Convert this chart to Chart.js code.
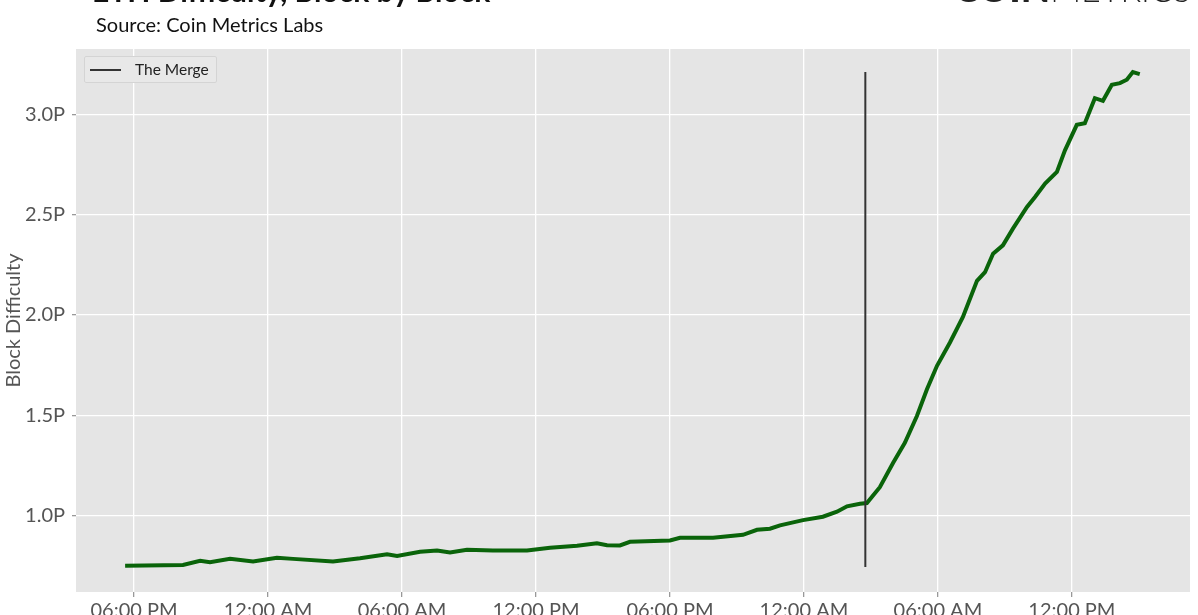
<!DOCTYPE html>
<html>
<head>
<meta charset="utf-8">
<script src="https://cdn.jsdelivr.net/npm/chart.js"></script>
<style>
  html, body { margin: 0; padding: 0; background: #fff; overflow: hidden; width: 1198px; height: 615px; }
  #wrap { position: relative; width: 1198px; height: 615px; overflow: hidden; font-family: Lato, sans-serif; }
  #chart { position: absolute; left: 0; top: 0; }
  .title { position: absolute; left: 92px; top: -28px; font-size: 30px; font-weight: bold; color: #111; white-space: nowrap; }
  .logo { position: absolute; left: 954px; top: -36px; font-size: 38px; color: #222; white-space: nowrap; }
  .logo b { font-weight: 900; }
  .logo span { font-weight: 300; font-size: 34px; }
  .source { position: absolute; left: 96px; top: 12px; font-size: 20px; color: #111; white-space: nowrap; }
  .legend { position: absolute; left: 84px; top: 56px; width: 131px; height: 25px; background: #e8e8e8;
            border: 1px solid #d4d4d4; border-radius: 2px; }
  .legend i { position: absolute; left: 5px; top: 12px; width: 31px; height: 2px; background: #333; }
  .legend span { position: absolute; left: 50px; top: 3px; font-size: 15.5px; color: #222; }
</style>
</head>
<body>
<div id="wrap">
  <canvas id="chart" width="1198" height="632"></canvas>
  <div class="title">ETH Difficulty, Block by Block</div>
  <div class="logo"><b>COIN</b><span>METRICS</span></div>
  <div class="source">Source: Coin Metrics Labs</div>
  <div class="legend"><i></i><span>The Merge</span></div>
</div>
<script>
// 区块难度 - 合并前后（小时，相对于首日 06:00 PM）
const hours = [
  -0.40, 2.19, 2.96, 3.40, 4.30, 5.33, 6.40, 7.12, 8.91, 10.12,
  11.33, 11.78, 12.81, 13.57, 14.15, 14.91, 16.07, 17.60, 18.63, 19.84,
  20.73, 21.18, 21.76, 22.21, 24.00, 24.45, 25.93, 27.27, 27.90, 28.48,
  28.93, 29.96, 30.85, 31.48, 31.93, 32.51, 32.82, 33.40, 33.99, 34.52,
  35.06, 35.51, 35.96, 36.54, 37.12, 37.75, 38.11, 38.47, 38.91, 39.36,
  39.99, 40.35, 40.80, 41.33, 41.69, 42.22, 42.58, 43.03, 43.39, 43.79,
  44.15, 44.46, 44.73, 45.04
];
const difficulty = [
  0.751, 0.755, 0.775, 0.768, 0.785, 0.772, 0.790, 0.785, 0.772, 0.788,
  0.808, 0.800, 0.820, 0.827, 0.817, 0.830, 0.827, 0.827, 0.840, 0.850,
  0.863, 0.853, 0.852, 0.870, 0.877, 0.890, 0.890, 0.905, 0.930, 0.935,
  0.952, 0.978, 0.995, 1.020, 1.047, 1.060, 1.063, 1.142, 1.263, 1.363,
  1.497, 1.630, 1.747, 1.863, 1.990, 2.170, 2.213, 2.305, 2.347, 2.430,
  2.538, 2.588, 2.655, 2.713, 2.820, 2.947, 2.955, 3.080, 3.067, 3.147,
  3.155, 3.172, 3.210, 3.200
];

// The Merge 竖线
const mergeHour = 32.75;
const mergeRange = [0.745, 3.21];

// 坐标轴刻度
const xTickHours = [0, 6, 12, 18, 24, 30, 36, 42];
const xTickLabels = ['06:00 PM', '12:00 AM', '06:00 AM', '12:00 PM', '06:00 PM', '12:00 AM', '06:00 AM', '12:00 PM'];
const yTickValues = [1.0, 1.5, 2.0, 2.5, 3.0];
const yTickLabels = ['1.0P', '1.5P', '2.0P', '2.5P', '3.0P'];

// 绘图区灰色背景
const plotBackground = {
    id: 'plotBackground',
    beforeDraw(chart) {
        const a = chart.chartArea;
        const ctx = chart.ctx;
        ctx.save();
        ctx.fillStyle = '#e5e5e5';
        ctx.fillRect(a.left, a.top, a.right - a.left, a.bottom - a.top);
        ctx.restore();
    }
};

const ctx = document.getElementById('chart').getContext('2d');
new Chart(ctx, {
    type: 'line',
    data: {
        datasets: [{
            label: 'Block Difficulty',
            data: hours.map((h, i) => ({ x: h, y: difficulty[i] })),
            borderColor: '#0a640a',
            borderWidth: 4,
            pointRadius: 0,
            tension: 0,
            order: 2
        }, {
            label: 'The Merge',
            data: mergeRange.map(v => ({ x: mergeHour, y: v })),
            borderColor: '#333333',
            borderWidth: 2,
            pointRadius: 0,
            order: 1
        }]
    },
    options: {
        responsive: false,
        animation: false,
        layout: { padding: { top: 49, right: 8, left: 0, bottom: 0 } },
        plugins: {
            legend: { display: false },
            tooltip: { enabled: false }
        },
        scales: {
            x: {
                type: 'linear',
                min: -2.6,
                max: 47.29,
                afterBuildTicks: scale => { scale.ticks = xTickHours.map(v => ({ value: v })); },
                afterFit: scale => { scale.height = 40; },
                ticks: {
                    autoSkip: false,
                    maxRotation: 0,
                    padding: 2,
                    color: '#555',
                    font: { family: 'Lato', size: 20 },
                    callback: (value) => xTickLabels[xTickHours.indexOf(value)]
                },
                grid: {
                    color: '#ffffff',
                    lineWidth: 1.3,
                    tickColor: '#999',
                    tickLength: 5
                },
                border: { display: false }
            },
            y: {
                min: 0.62,
                max: 3.325,
                afterBuildTicks: scale => { scale.ticks = yTickValues.map(v => ({ value: v })); },
                afterFit: scale => { scale.width = 76; },
                title: {
                    display: true,
                    text: 'Block Difficulty',
                    color: '#555',
                    font: { family: 'Lato', size: 20 },
                    padding: { top: 2, bottom: 0 }
                },
                ticks: {
                    padding: 7,
                    color: '#555',
                    font: { family: 'Lato', size: 20 },
                    callback: (value) => yTickLabels[yTickValues.indexOf(value)]
                },
                grid: {
                    color: '#ffffff',
                    lineWidth: 1.3,
                    tickColor: '#999',
                    tickLength: 4
                },
                border: { display: false }
            }
        }
    },
    plugins: [plotBackground]
});
</script>
</body>
</html>
